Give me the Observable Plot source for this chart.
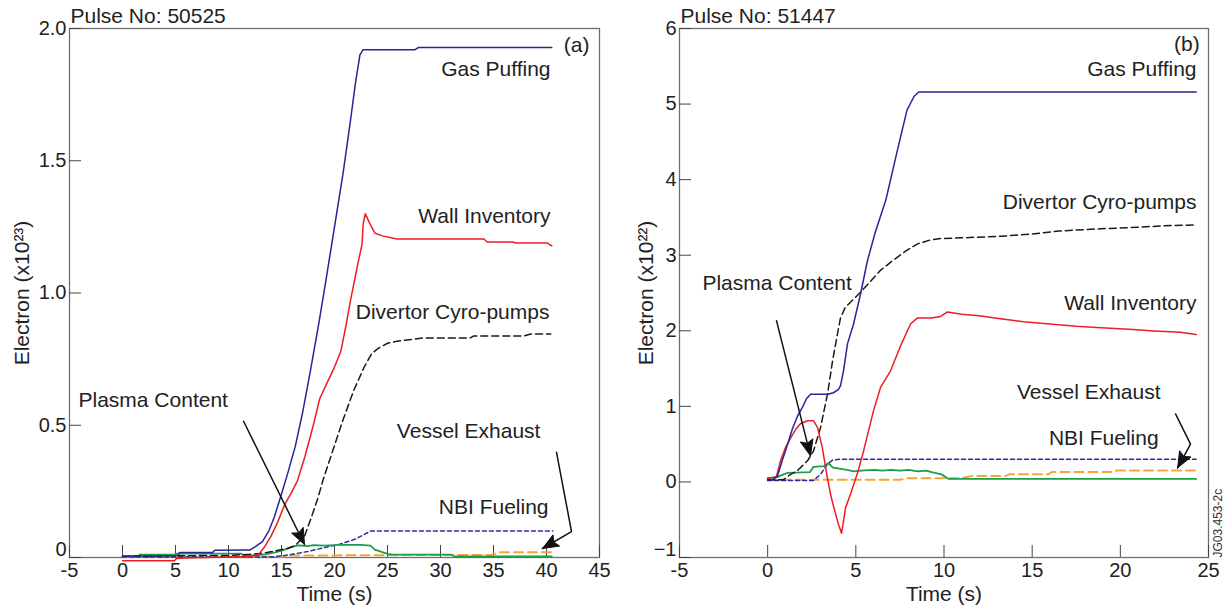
<!DOCTYPE html>
<html>
<head>
<meta charset="utf-8">
<script src="https://cdn.jsdelivr.net/npm/d3@7"></script>
<script src="https://cdn.jsdelivr.net/npm/@observablehq/plot@0.6"></script>
<style>
  html, body { margin: 0; padding: 0; background: #fff; }
  #wrap { display: flex; flex-direction: row; width: 1231px; height: 609px; }
</style>
</head>
<body>
<div id="wrap"></div>
<script>
// ---------------- Data: Pulse 50525 (panel a), units 1e23 ----------------
const aGas = [[0,0.005],[5.2,0.008],[5.4,0.019],[8.5,0.019],[8.7,0.027],[12,0.028],[12.5,0.04],[13.2,0.06],[13.8,0.1],[14.3,0.15],[15,0.24],[15.6,0.32],[16.3,0.42],[17,0.55],[17.7,0.7],[18.5,0.88],[19.2,1.05],[20,1.25],[20.8,1.45],[21.5,1.65],[22,1.8],[22.4,1.9],[22.7,1.92],[27.6,1.92],[27.9,1.928],[40.5,1.928]];
const aWall = [[0,-0.012],[4.9,-0.012],[5.1,-0.004],[6,-0.002],[8,0.0],[10,0.002],[12,0.004],[12.8,0.01],[13.4,0.04],[14,0.08],[14.6,0.13],[15.3,0.2],[16,0.25],[16.5,0.29],[17.2,0.38],[18,0.5],[18.6,0.6],[19.3,0.66],[20,0.72],[20.6,0.78],[21.1,0.88],[21.5,0.97],[21.9,1.05],[22.2,1.11],[22.6,1.185],[22.7,1.26],[22.9,1.30],[23.3,1.265],[23.8,1.227],[24.5,1.216],[25.9,1.204],[34.1,1.204],[34.4,1.193],[36.8,1.193],[37.1,1.189],[40.1,1.189],[40.5,1.178]];
const aDivertor = [[0,0.005],[10,0.008],[12,0.012],[13,0.015],[14.2,0.023],[15.6,0.035],[16.3,0.045],[17.2,0.083],[17.8,0.15],[18.4,0.22],[18.9,0.29],[19.8,0.4],[20.8,0.52],[21.8,0.63],[22.8,0.72],[23.5,0.77],[24.1,0.79],[25,0.81],[25.9,0.818],[28.4,0.83],[32.8,0.83],[33.1,0.837],[37.8,0.837],[38.5,0.845],[40.4,0.845]];
const aNBI = [[0,0.002],[14,0.002],[15,0.006],[16,0.012],[17.5,0.023],[19.3,0.04],[20.5,0.05],[22,0.07],[23.4,0.1],[40.6,0.1]];
const aPlasma = [[0,0.004],[1.5,0.004],[1.6,0.011],[5,0.011],[5.1,0.015],[11.2,0.015],[11.4,0.008],[12.6,0.008],[13.5,0.012],[14.5,0.02],[15.3,0.03],[16,0.04],[16.6,0.046],[17.5,0.043],[18,0.047],[19,0.045],[20.5,0.048],[22.5,0.048],[23.4,0.045],[23.8,0.03],[24.5,0.02],[25,0.014],[25.5,0.011],[31,0.011],[31.3,0.004],[40.5,0.004]];
const aVessel = [[0,0.003],[15,0.003],[16,0.008],[20,0.008],[25,0.009],[34.7,0.009],[35.3,0.016],[35.6,0.02],[40.5,0.02]];

// ---------------- Data: Pulse 51447 (panel b), units 1e22 ----------------
const bGas = [[0,0.02],[0.3,0.03],[0.56,0.08],[0.85,0.3],[1.13,0.5],[1.4,0.7],[1.69,0.87],[2.0,1.0],[2.2,1.1],[2.43,1.16],[3.4,1.16],[3.73,1.18],[4.0,1.22],[4.13,1.27],[4.3,1.47],[4.53,1.83],[4.87,2.09],[5.27,2.49],[5.66,2.93],[6.1,3.3],[6.7,3.73],[7.36,4.39],[7.9,4.92],[8.3,5.1],[8.56,5.16],[24.3,5.16]];
const bWall = [[0,0.05],[0.5,0.07],[0.73,0.28],[1.0,0.45],[1.3,0.58],[1.6,0.7],[1.86,0.77],[2.26,0.81],[2.6,0.81],[2.83,0.72],[3.1,0.45],[3.39,0.05],[3.6,-0.2],[3.8,-0.38],[4.0,-0.55],[4.19,-0.68],[4.42,-0.34],[4.7,-0.16],[5.1,0.12],[5.44,0.41],[6.0,0.94],[6.4,1.25],[6.97,1.47],[7.5,1.78],[8.1,2.09],[8.5,2.17],[9.3,2.17],[9.8,2.19],[10.2,2.25],[11,2.22],[12,2.2],[13.2,2.16],[14.5,2.12],[16,2.09],[17.5,2.06],[18.9,2.04],[20.5,2.02],[21.7,2.0],[23.4,1.98],[24.3,1.95]];
const bDivertor = [[0,0.03],[0.9,0.03],[1.3,0.1],[1.69,0.15],[2.26,0.28],[2.6,0.41],[3.0,0.72],[3.4,1.17],[3.68,1.6],[3.96,1.96],[4.13,2.17],[4.4,2.31],[5.27,2.51],[6.4,2.8],[7.1,2.93],[7.8,3.05],[8.5,3.15],[9.2,3.2],[9.8,3.22],[11,3.23],[13.2,3.25],[15,3.28],[16.5,3.32],[18.9,3.35],[21,3.37],[22.5,3.39],[24.3,3.4]];
const bNBI = [[0,0.02],[2.6,0.02],[3.0,0.1],[3.4,0.24],[3.7,0.29],[4.1,0.3],[24.3,0.3]];
const bPlasma = [[0,0.05],[0.5,0.06],[0.9,0.1],[1.13,0.12],[2.4,0.13],[2.6,0.2],[3.2,0.21],[3.45,0.25],[3.7,0.19],[4.5,0.16],[4.9,0.14],[5.3,0.15],[6,0.16],[6.5,0.15],[7,0.16],[7.5,0.15],[8,0.16],[8.5,0.14],[9,0.15],[9.3,0.13],[9.86,0.1],[10.26,0.04],[24.3,0.04]];
const bVessel = [[0,0.03],[7.5,0.03],[8,0.05],[11,0.05],[11.6,0.08],[13.5,0.08],[13.7,0.1],[15.9,0.1],[16.1,0.13],[19.6,0.13],[19.8,0.15],[24.3,0.15]];

// ---------------- Ticks ----------------
const aXTicks = [-5,0,5,10,15,20,25,30,35,40,45];
const aYTicks = [0,0.5,1.0,1.5,2.0];
const aYLabels = ["0","0.5","1.0","1.5","2.0"];
const bXTicks = [-5,0,5,10,15,20,25];
const bYTicks = [-1,0,1,2,3,4,5,6];
const bYLabels = ["\u22121","0","1","2","3","4","5","6"];

// ---------------- Annotations (data units) ----------------
const aNotes = [
  {text: "Gas Puffing", x: 40.38, y: 1.845, anchor: "end"},
  {text: "Wall Inventory", x: 40.38, y: 1.292, anchor: "end"},
  {text: "Divertor Cyro-pumps", x: 40.28, y: 0.928, anchor: "end"},
  {text: "Plasma Content", x: -4.15, y: 0.595, anchor: "start"},
  {text: "Vessel Exhaust", x: 39.43, y: 0.477, anchor: "end"},
  {text: "NBI Fueling", x: 40.19, y: 0.189, anchor: "end"},
  {text: "(a)", x: 44.06, y: 1.936, anchor: "end"}
];
const bNotes = [
  {text: "Gas Puffing", x: 24.32, y: 5.46, anchor: "end"},
  {text: "Divertor Cyro-pumps", x: 24.32, y: 3.70, anchor: "end"},
  {text: "Wall Inventory", x: 24.32, y: 2.36, anchor: "end"},
  {text: "Plasma Content", x: -3.70, y: 2.625, anchor: "start"},
  {text: "Vessel Exhaust", x: 22.28, y: 1.18, anchor: "end"},
  {text: "NBI Fueling", x: 22.17, y: 0.583, anchor: "end"},
  {text: "(b)", x: 24.5, y: 5.79, anchor: "end"}
];
const aArrows = [
  [[11.42,0.515],[17.17,0.049]],
  [[40.94,0.398],[42.36,0.098],[39.62,0.034]]
];
const bArrows = [
  [[0.50,2.134],[2.43,0.345]],
  [[23.13,0.90],[23.98,0.50],[23.25,0.186]]
];

const FONT = "'Liberation Sans', Arial, Helvetica, sans-serif";
const styles = {
  gas:      {stroke: "#262699", strokeWidth: 1.5},
  wall:     {stroke: "#ee1c24", strokeWidth: 1.5},
  divertor: {stroke: "#1a1a1a", strokeWidth: 1.5, strokeDasharray: "7,4"},
  nbi:      {stroke: "#2b2ba6", strokeWidth: 1.5, strokeDasharray: "4,3"},
  plasma:   {stroke: "#1aa04a", strokeWidth: 1.8},
  vessel:   {stroke: "#f7a33a", strokeWidth: 2, strokeDasharray: "9,5"}
};

function panel(o) {
  const H = 609, mt = 28, mb = 52;
  const pw = o.width - o.marginLeft - o.marginRight;
  const ph = H - mt - mb;
  const kx = pw / (o.xDomain[1] - o.xDomain[0]);
  const ky = ph / (o.yDomain[1] - o.yDomain[0]);
  const lowTick = o.yTicks.slice(0, 1), otherTicks = o.yTicks.slice(1);
  const fmt = d => o.yLabels[o.yTicks.indexOf(d)];
  const marks = [
    Plot.frame({stroke: "#6e6e6e", strokeWidth: 1.3}),
    Plot.tickX(o.xTicks, {x: d => d, stroke: "#444", insetTop: ph - 12}),
    Plot.tickY(o.yTicks, {y: d => d, stroke: "#444", insetRight: pw - 12}),
    Plot.axisX({ticks: o.xTicks, tickSize: 0, tickPadding: 5, label: null, tickFormat: d => String(d), fontSize: 20}),
    Plot.axisY({ticks: otherTicks, tickSize: 0, tickPadding: 3, label: null, tickFormat: fmt, fontSize: 20}),
    Plot.axisY({ticks: lowTick, tickSize: 0, tickPadding: 3, label: null, tickFormat: fmt, fontSize: 20, dy: -8}),
  ];
  for (const s of o.series) {
    marks.push(Plot.line(s.data, {x: d => d[0], y: d => d[1], ...styles[s.key]}));
  }
  // arrows: shaft polyline + filled triangular head
  const L = 16, W = 6.5;
  for (const pts of o.arrows) {
    marks.push(Plot.line(pts, {x: d => d[0], y: d => d[1], stroke: "#111", strokeWidth: 1.5, strokeLinejoin: "miter"}));
    const a = pts[pts.length - 2], b = pts[pts.length - 1];
    const sx = (b[0] - a[0]) * kx, sy = -(b[1] - a[1]) * ky;
    const len = Math.hypot(sx, sy), ux = sx / len, uy = sy / len;
    const nx = -uy, ny = ux;
    const toData = (ox, oy) => [b[0] + ox / kx, b[1] - oy / ky];
    const head = [
      b,
      toData(-ux * L + nx * W, -uy * L + ny * W),
      toData(-ux * (L - 3), -uy * (L - 3)),
      toData(-ux * L - nx * W, -uy * L - ny * W),
      b
    ];
    marks.push(Plot.line(head, {x: d => d[0], y: d => d[1], stroke: "#111", fill: "#111", strokeWidth: 1, strokeLinejoin: "miter"}));
  }
  for (const anc of ["start", "end"]) {
    marks.push(Plot.text(o.notes.filter(d => d.anchor === anc), {x: "x", y: "y", text: "text", textAnchor: anc, fontSize: 21, fill: "#222", lineAnchor: "middle"}));
  }
  marks.push(Plot.text([o.pulse], {frameAnchor: "top-left", text: d => d, textAnchor: "start", lineAnchor: "middle", dx: 1, dy: -12, fontSize: 21, fill: "#222"}));
  marks.push(Plot.text([o.ylabel], {frameAnchor: "left", text: d => d, rotate: -90, textAnchor: "middle", lineAnchor: "middle", dx: o.ylabelDx, fontSize: 21, fill: "#222"}));
  marks.push(Plot.text(["Time (s)"], {frameAnchor: "bottom", text: d => d, textAnchor: "middle", lineAnchor: "middle", dy: 37, fontSize: 21, fill: "#222"}));
  if (o.code) {
    marks.push(Plot.text([o.code], {frameAnchor: "bottom-right", text: d => d, rotate: -90, textAnchor: "start", lineAnchor: "middle", dx: 10, dy: 0, fontSize: 12, fill: "#333"}));
  }
  return Plot.plot({
    width: o.width, height: H,
    marginLeft: o.marginLeft, marginRight: o.marginRight, marginTop: mt, marginBottom: mb,
    x: {domain: o.xDomain},
    y: {domain: o.yDomain},
    style: {fontFamily: FONT, fontSize: "20px", color: "#222", background: "#fff", overflow: "visible"},
    marks
  });
}

const left = panel({
  width: 620, marginLeft: 69, marginRight: 21,
  xDomain: [-5, 45], yDomain: [0, 2],
  xTicks: aXTicks, yTicks: aYTicks, yLabels: aYLabels,
  series: [
    {key: "vessel", data: aVessel}, {key: "nbi", data: aNBI}, {key: "plasma", data: aPlasma},
    {key: "divertor", data: aDivertor}, {key: "wall", data: aWall}, {key: "gas", data: aGas}
  ],
  notes: aNotes, arrows: aArrows,
  pulse: "Pulse No: 50525", ylabel: "Electron (x10\u00B2\u00B3)", ylabelDx: -47
});
const right = panel({
  width: 611, marginLeft: 59, marginRight: 23,
  xDomain: [-5, 25], yDomain: [-1, 6],
  xTicks: bXTicks, yTicks: bYTicks, yLabels: bYLabels,
  series: [
    {key: "vessel", data: bVessel}, {key: "nbi", data: bNBI}, {key: "plasma", data: bPlasma},
    {key: "divertor", data: bDivertor}, {key: "wall", data: bWall}, {key: "gas", data: bGas}
  ],
  notes: bNotes, arrows: bArrows,
  pulse: "Pulse No: 51447", ylabel: "Electron (x10\u00B2\u00B2)", ylabelDx: -33,
  code: "JG03.453-2c"
});
document.getElementById("wrap").append(left, right);
</script>
</body>
</html>
